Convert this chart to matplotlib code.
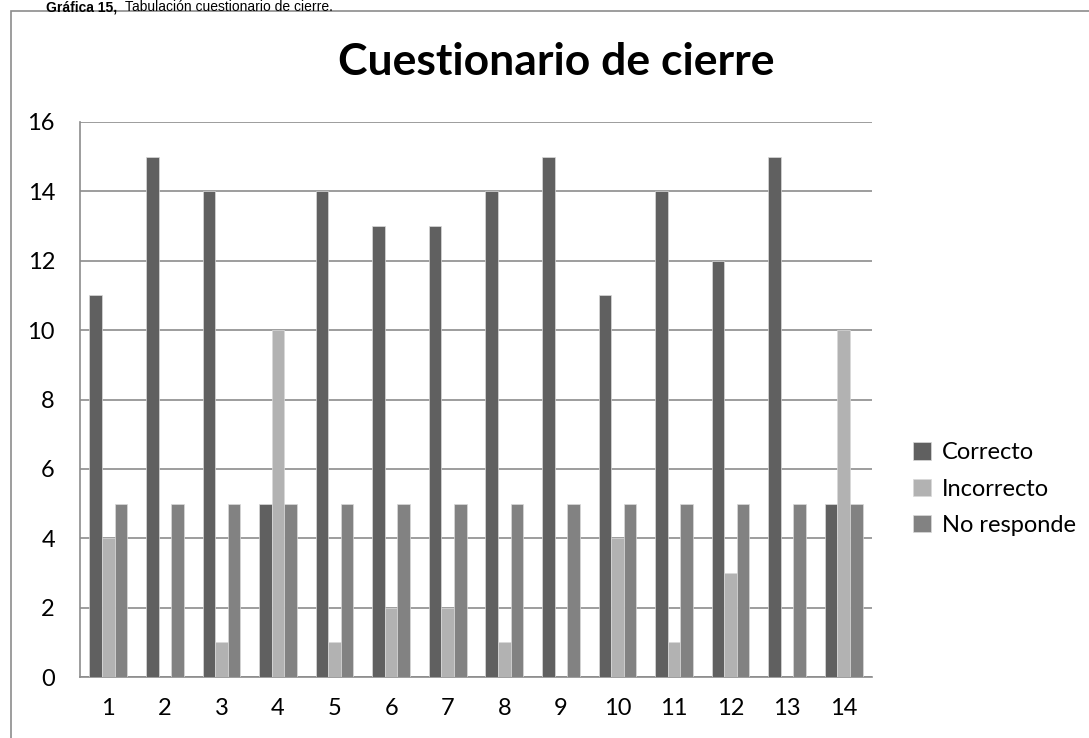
import matplotlib.pyplot as plt
import numpy as np
from matplotlib.patches import Rectangle

preguntas = [str(i) for i in range(1, 15)]
correcto = [11, 15, 14, 5, 14, 13, 13, 14, 15, 11, 14, 12, 15, 5]
incorrecto = [4, 0, 1, 10, 1, 2, 2, 1, 0, 4, 1, 3, 0, 10]
no_responde = [5, 5, 5, 5, 5, 5, 5, 5, 5, 5, 5, 5, 5, 5]

series = [('Correcto', correcto, '#606060'),
          ('Incorrecto', incorrecto, '#b2b2b2'),
          ('No responde', no_responde, '#828282')]

plt.rcParams['font.family'] = ['Lato', 'DejaVu Sans']

fig = plt.figure(figsize=(10.89, 7.38), dpi=100)
ax = fig.add_axes([80 / 1089, 1 - 677 / 738, 792 / 1089, 555 / 738])

# marco exterior del grafico
fig.patches.append(Rectangle((11 / 1089, -0.05), 1.2, 1 - 11 / 738 + 0.05,
                             transform=fig.transFigure, fill=False,
                             edgecolor='#8c8c8c', linewidth=1.2))

x = np.arange(len(preguntas))
w = 0.223
for k, (nombre, vals, col) in enumerate(series):
    ax.bar(x + (k - 1) * w, vals, width=w, color=col, edgecolor='#d9d9d9',
           linewidth=0.5, label=nombre, zorder=3)

ax.set_xlim(-0.5, len(preguntas) - 0.5)
ax.set_ylim(0, 16)
ax.set_yticks(range(0, 17, 2))
ax.set_xticks(x)
ax.set_xticklabels(preguntas)
ax.tick_params(length=0, labelsize=17, pad=15)
ax.tick_params(axis='y', pad=18)
ax.grid(axis='y', color='#8c8c8c', linewidth=1.2, zorder=0)
for s in ['top', 'right']:
    ax.spines[s].set_visible(False)
ax.spines['left'].set_color('#8c8c8c')
ax.spines['bottom'].set_color('#8c8c8c')
ax.spines['left'].set_linewidth(1.2)
ax.spines['bottom'].set_linewidth(1.2)

fig.text(556 / 1089, 1 - 62 / 738, 'Cuestionario de cierre', ha='center',
         va='center', fontsize=32, fontweight='bold')

fig.legend(loc='center left', bbox_to_anchor=(892 / 1089, 1 - 489 / 738),
           frameon=False, fontsize=17, handlelength=0.75, handleheight=0.75,
           handletextpad=0.45, labelspacing=0.65)

# pie de grafica
fig.text(117 / 1089, 1.0, 'Gráfica 15,', fontsize=10, fontweight='bold',
         family='Liberation Sans', va='top', ha='right')
fig.text(125 / 1089, 1.0, 'Tabulación cuestionario de cierre.',
         fontsize=10, family='Liberation Sans', va='top', ha='left')

fig.savefig('out.png', dpi=100)
